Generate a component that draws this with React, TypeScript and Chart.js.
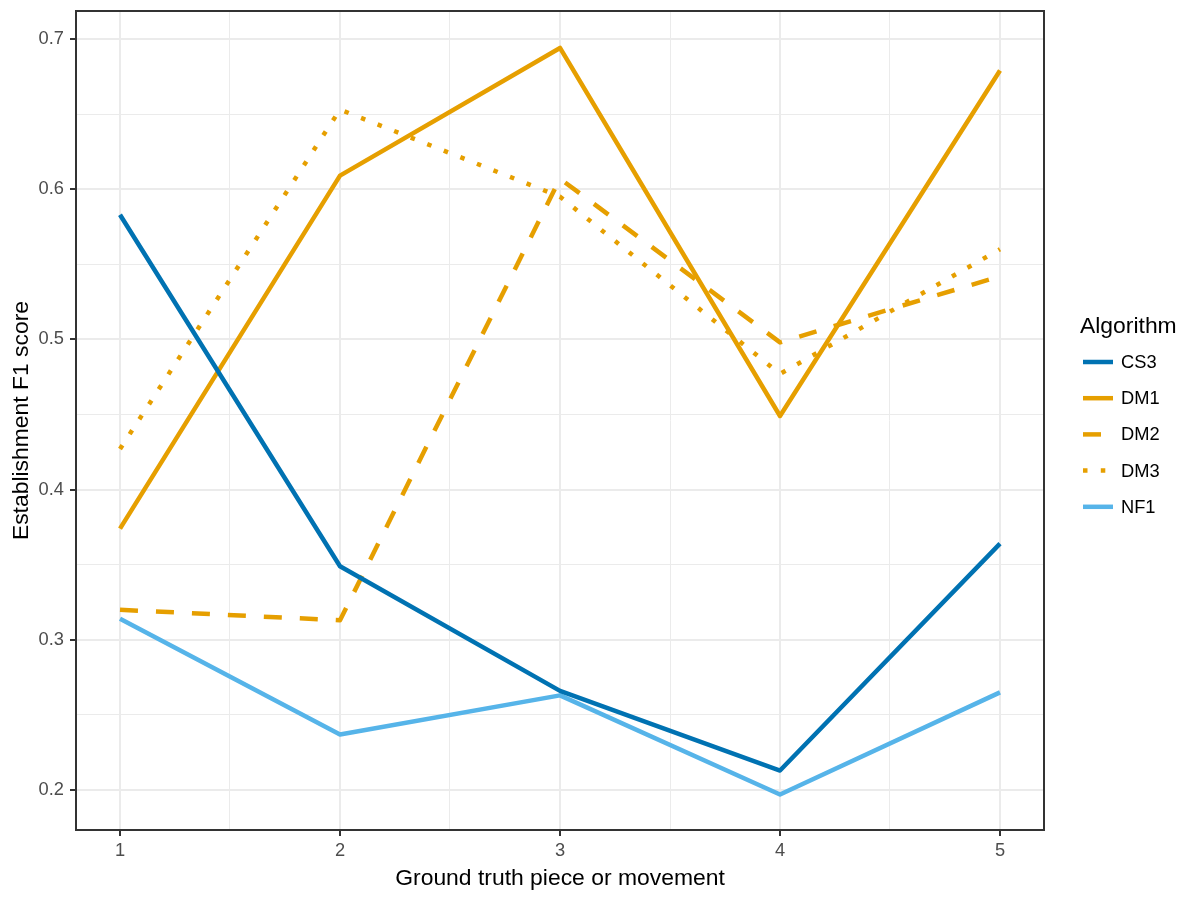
import React, { useEffect, useRef } from "react";
import { Chart, registerables } from "chart.js";

Chart.register(...registerables);

// ---- data ----
const xValues = [1, 2, 3, 4, 5];
const seriesNames = ["CS3", "DM1", "DM2", "DM3", "NF1"];
const cs3 = [0.583, 0.349, 0.266, 0.213, 0.364];
const dm1 = [0.374, 0.609, 0.694, 0.449, 0.679];
const dm2 = [0.320, 0.313, 0.607, 0.498, 0.542];
const dm3 = [0.427, 0.653, 0.595, 0.477, 0.560];
const nf1 = [0.314, 0.237, 0.263, 0.197, 0.265];
const xMajorTicks = [1, 2, 3, 4, 5];
const xMinorTicks = [1.5, 2.5, 3.5, 4.5];
const yMajorTicks = [0.2, 0.3, 0.4, 0.5, 0.6, 0.7];
const yMinorTicks = [0.25, 0.35, 0.45, 0.55, 0.65];
const xTitle = "Ground truth piece or movement";
const yTitle = "Establishment F1 score";
const legendTitle = "Algorithm";

// ---- styles ----
const seriesValues = [cs3, dm1, dm2, dm3, nf1];
const seriesColors = ["#0072B2", "#E69F00", "#E69F00", "#E69F00", "#56B4E9"];
const LW = 4.5;
const seriesDashes: number[][] = [[], [], [18, 18], [4.5, 13.3], []];
const FONT = "'Liberation Sans', Arial, Helvetica, sans-serif";

const isMajor = (v: number, majors: number[]) =>
  majors.some((m) => Math.abs(m - v) < 1e-9);

const panelBorder = {
  id: "panelBorder",
  afterDatasetsDraw(chart: any) {
    const { ctx, chartArea } = chart;
    ctx.save();
    ctx.strokeStyle = "#333333";
    ctx.lineWidth = 2;
    ctx.strokeRect(
      chartArea.left,
      chartArea.top,
      chartArea.right - chartArea.left,
      chartArea.bottom - chartArea.top
    );
    ctx.restore();
  },
};

const customLegend = {
  id: "customLegend",
  afterDraw(chart: any) {
    const { ctx } = chart;
    ctx.save();
    ctx.fillStyle = "#000000";
    ctx.textBaseline = "middle";
    ctx.textAlign = "left";
    ctx.font = `22.9px ${FONT}`;
    ctx.fillText(legendTitle, 1080, 327);
    ctx.font = `18.3px ${FONT}`;
    chart.data.datasets.forEach((ds: any, i: number) => {
      const y = 362 + i * 36.2;
      ctx.save();
      ctx.strokeStyle = ds.borderColor;
      ctx.lineWidth = LW;
      ctx.lineCap = "butt";
      ctx.setLineDash(ds.borderDash || []);
      ctx.beginPath();
      ctx.moveTo(1083, y);
      ctx.lineTo(1113, y);
      ctx.stroke();
      ctx.restore();
      ctx.fillStyle = "#000000";
      ctx.fillText(ds.label, 1121, y + 1);
    });
    ctx.restore();
  },
};

export default function App() {
  const ref = useRef<HTMLCanvasElement | null>(null);

  useEffect(() => {
    if (!ref.current) return;
    const chart = new Chart(ref.current, {
      type: "line",
      data: {
        datasets: seriesNames.map((name, i) => ({
          label: name,
          data: xValues.map((x, j) => ({ x, y: seriesValues[i][j] })),
          borderColor: seriesColors[i],
          backgroundColor: seriesColors[i],
          borderWidth: LW,
          borderDash: seriesDashes[i],
          borderCapStyle: "butt",
          borderJoinStyle: "round",
          pointRadius: 0,
          tension: 0,
          fill: false,
        })),
      },
      options: {
        responsive: false,
        animation: false,
        devicePixelRatio: 1,
        layout: { padding: { top: 11, right: 156, left: 0, bottom: 0 } },
        plugins: {
          legend: { display: false },
          tooltip: { enabled: false },
        },
        scales: {
          x: {
            type: "linear",
            min: 0.8,
            max: 5.2,
            afterBuildTicks: (scale: any) => {
              scale.ticks = [...xMajorTicks, ...xMinorTicks]
                .sort((a, b) => a - b)
                .map((v) => ({ value: v }));
            },
            afterFit: (scale: any) => {
              scale.height = 70;
              scale.paddingLeft = 0;
              scale.paddingRight = 0;
            },
            border: { display: false },
            grid: {
              color: "#EBEBEB",
              lineWidth: (c: any) => (isMajor(c.tick?.value, xMajorTicks) ? 2 : 1),
              drawTicks: true,
              tickLength: 6,
              tickWidth: 2,
              tickColor: (c: any) =>
                isMajor(c.tick?.value, xMajorTicks) ? "#333333" : "rgba(0,0,0,0)",
            },
            ticks: {
              autoSkip: false,
              maxRotation: 0,
              padding: 4,
              color: "#4D4D4D",
              font: { family: FONT, size: 18.3 },
              callback: (v: any) => (isMajor(Number(v), xMajorTicks) ? String(v) : ""),
            },
            title: {
              display: true,
              text: xTitle,
              color: "#000000",
              font: { family: FONT, size: 22.9 },
              padding: { top: 0, bottom: 8 },
            },
          },
          y: {
            type: "linear",
            min: 0.1734,
            max: 0.7186,
            afterBuildTicks: (scale: any) => {
              scale.ticks = [...yMajorTicks, ...yMinorTicks]
                .sort((a, b) => a - b)
                .map((v) => ({ value: v }));
            },
            afterFit: (scale: any) => {
              scale.width = 76;
              scale.paddingTop = 0;
              scale.paddingBottom = 0;
            },
            border: { display: false },
            grid: {
              color: "#EBEBEB",
              lineWidth: (c: any) => (isMajor(c.tick?.value, yMajorTicks) ? 2 : 1),
              drawTicks: true,
              tickLength: 6,
              tickWidth: 2,
              tickColor: (c: any) =>
                isMajor(c.tick?.value, yMajorTicks) ? "#333333" : "rgba(0,0,0,0)",
            },
            ticks: {
              autoSkip: false,
              padding: 6,
              color: "#4D4D4D",
              font: { family: FONT, size: 18.3 },
              callback: (v: any) =>
                isMajor(Number(v), yMajorTicks) ? Number(v).toFixed(1) : "",
            },
            title: {
              display: true,
              text: yTitle,
              color: "#000000",
              font: { family: FONT, size: 22.9 },
              padding: { top: 8, bottom: 0 },
            },
          },
        },
      },
      plugins: [panelBorder, customLegend],
    } as any);
    return () => chart.destroy();
  }, []);

  return (
    <div style={{ position: "absolute", left: 0, top: 0, width: 1200, height: 900, background: "#ffffff" }}>
      <canvas ref={ref} width={1200} height={900} style={{ width: 1200, height: 900, display: "block" }} />
    </div>
  );
}
